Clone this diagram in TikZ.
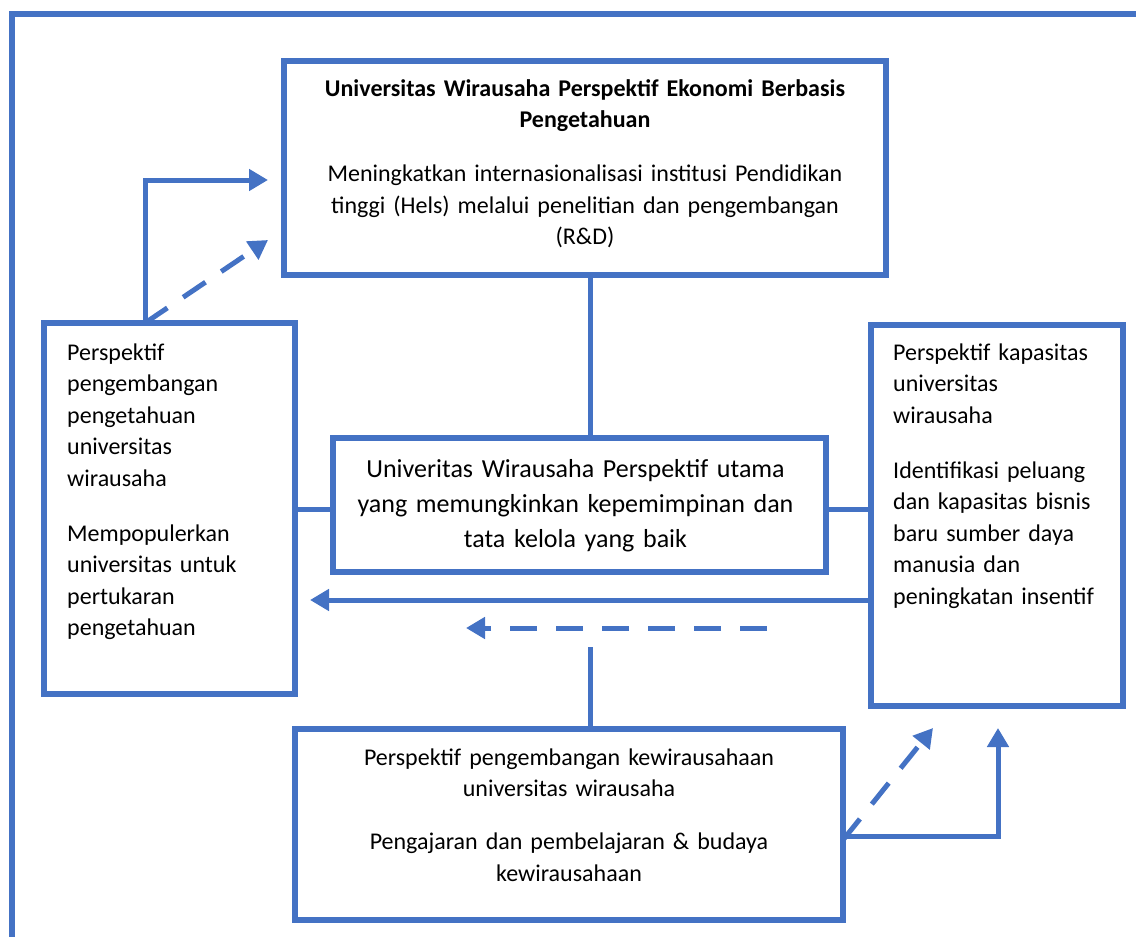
\documentclass[tikz,border=0pt]{standalone}
\usepackage{fontspec}
\setmainfont{Carlito}
\usetikzlibrary{arrows.meta,positioning}
\definecolor{officeblue}{RGB}{68,114,196}
\tikzset{persp box/.style={rectangle,draw=officeblue,line width=6.5pt,inner sep=0pt,outer sep=0pt},
        persp text/.style={inner sep=0pt,font=\fontsize{24}{31.5}\selectfont},
        connector/.style={draw=officeblue,line width=5pt},
        flow/.style={connector,-{Triangle[length=19pt,width=21pt]}},
        dashed flow/.style={flow,dash pattern=on 27pt off 19pt},
        }

\begin{document}
\begin{tikzpicture}[x=1pt,y=-1pt]
    \useasboundingbox (0,0) rectangle (1136,937);
    \draw[draw=officeblue,line width=6pt] (12,937) -- (12,14) -- (1136,14);

    \node[persp box,minimum width=602pt,minimum height=214pt] (topbox) at (585,168) {};
    \node[persp box,minimum width=251pt,minimum height=371pt] (knowbox) at (169.5,508.5) {};
    \node[persp box,minimum width=493pt,minimum height=134pt] (mainbox) at (579.5,505) {};
    \node[persp box,minimum width=252pt,minimum height=381pt] (capbox) at (997,515.5) {};
    \node[persp box,minimum width=548pt,minimum height=191pt] (entbox) at (569,824.5) {};

    \node[persp text,text width=580pt,align=center,below=35pt of topbox.north,anchor=base] (toptext)
        {\textbf{Universitas Wirausaha Perspektif Ekonomi Berbasis}\\\textbf{Pengetahuan}\\[22.5pt]
         Meningkatkan internasionalisasi institusi Pendidikan\\tinggi (Hels) melalui penelitian dan pengembangan\\(R\&D)};
    \node[persp text,text width=225pt,align=left,below right=37pt and 23pt of knowbox.north west,anchor=base west] (knowtext)
        {Perspektif\\pengembangan\\pengetahuan\\universitas\\wirausaha\\[23.5pt]
         Mempopulerkan\\universitas untuk\\pertukaran\\pengetahuan};
    \node[persp text,font=\fontsize{26}{35}\selectfont,text width=480pt,align=center,below=39pt of mainbox.north,anchor=base,xshift=-4pt] (maintext)
        {Univeritas Wirausaha Perspektif utama\\yang memungkinkan kepemimpinan dan\\tata kelola yang baik};
    \node[persp text,text width=228pt,align=left,below right=35pt and 22pt of capbox.north west,anchor=base west] (captext)
        {Perspektif kapasitas\\universitas\\wirausaha\\[23.5pt]
         Identifikasi peluang\\dan kapasitas bisnis\\baru sumber daya\\manusia dan\\peningkatan insentif};
    \node[persp text,text width=530pt,align=center,below=36pt of entbox.north,anchor=base] (enttext)
        {Perspektif pengembangan kewirausahaan\\universitas wirausaha\\[21.5pt]
         Pengajaran dan pembelajaran \& budaya\\kewirausahaan};

    \coordinate (axis) at (590,0);
    \coordinate (midrow) at (0,509);
    \coordinate (backrow) at (0,600);
    \coordinate (uprow) at (0,180);
    \coordinate (lowrow) at (0,836);
    \coordinate (leftup) at (145,0);
    \coordinate (rightup) at (998,0);
    \coordinate (dashstart) at (767,628);
    \coordinate (dashend) at (466,628);
    \coordinate (stubtop) at (590,647);
    \coordinate (dashtipA) at (268,240);
    \coordinate (dashtipB) at (933,728);

    \draw[connector] (topbox.south -| axis) -- (mainbox.north -| axis);
    \draw[connector] (knowbox.east |- midrow) -- (mainbox.west |- midrow);
    \draw[connector] (mainbox.east |- midrow) -- (capbox.west |- midrow);
    \draw[flow,shorten >=15pt] (capbox.west |- backrow) -- (knowbox.east |- backrow);
    \draw[dashed flow] (dashstart) -- (dashend);
    \draw[connector] (stubtop) -- (entbox.north -| axis);
    \draw[flow,shorten >=16pt] (knowbox.north -| leftup) |- (topbox.west |- uprow);
    \draw[dashed flow] (knowbox.north -| leftup) -- (dashtipA);
    \draw[flow,shorten >=22pt] (entbox.east |- lowrow) -| (capbox.south -| rightup);
    \draw[dashed flow] ([yshift=-4pt]entbox.east |- lowrow) -- (dashtipB);
\end{tikzpicture}
\end{document}
